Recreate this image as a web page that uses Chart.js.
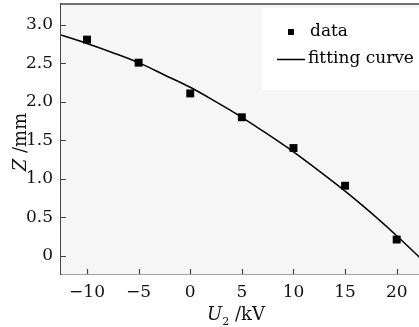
<!DOCTYPE html>
<html>
<head>
<meta charset="utf-8">
<script src="https://cdn.jsdelivr.net/npm/chart.js@4.4.1/dist/chart.umd.min.js"></script>
<style>
  html, body { margin: 0; padding: 0; background: #ffffff; overflow: hidden; }
  #wrap { width: 419px; height: 327px; position: relative; overflow: hidden; }
  canvas { display: block; }
</style>
</head>
<body>
<div id="wrap"><canvas id="c" width="419" height="327"></canvas></div>
<script>
// ---- data ----
const xValues = [-10, -5, 0, 5, 10, 15, 20];
const zValues = [2.81, 2.51, 2.11, 1.80, 1.40, 0.91, 0.21];

const fitX = [-12.5, -10, -7.5, -5, -2.5, 0, 2.5, 5, 7.5, 10, 12.5, 15, 17.5, 20, 22.2];
const fitZ = [2.87, 2.76, 2.64, 2.51, 2.35, 2.19, 2.00, 1.80, 1.58, 1.35, 1.10, 0.84, 0.56, 0.26, -0.02];

const xTicks = [-10, -5, 0, 5, 10, 15, 20];
const xTickLabels = ['\u221210', '\u22125', '0', '5', '10', '15', '20'];
const yTicks = [0, 0.5, 1.0, 1.5, 2.0, 2.5, 3.0];
const yTickLabels = ['0', '0.5', '1.0', '1.5', '2.0', '2.5', '3.0'];

const legendLabels = ['data', 'fitting curve'];
const xTitleMain = 'U', xTitleSub = '2', xTitleUnit = ' /kV';
const yTitleMain = 'Z', yTitleUnit = ' /mm';

const SERIF = '"DejaVu Serif", serif';
const FRAME = { left: 61, top: 4, bottom: 274 };

function zeroPad(s) {
  s.paddingTop = 0; s.paddingBottom = 0; s.paddingLeft = 0; s.paddingRight = 0;
}

const framePlugin = {
  id: 'frame',
  afterLayout(chart) {
    const x = chart.scales.x, y = chart.scales.y;
    const right = chart.width;
    x.left = FRAME.left; x.right = right; x.width = right - FRAME.left;
    x.configure();
    y.top = FRAME.top; y.bottom = FRAME.bottom; y.height = FRAME.bottom - FRAME.top;
    y.configure();
    const a = chart.chartArea;
    a.left = FRAME.left; a.right = right; a.top = FRAME.top; a.bottom = FRAME.bottom;
    a.width = right - FRAME.left; a.height = FRAME.bottom - FRAME.top;
  }
};

const decorPlugin = {
  id: 'decor',
  beforeDatasetsDraw(chart) {
    const { ctx, chartArea: a } = chart;
    ctx.save();
    ctx.fillStyle = '#f6f6f6';
    ctx.fillRect(a.left, a.top, a.right - a.left, a.bottom - a.top);
    // legend box
    ctx.fillStyle = '#ffffff';
    ctx.fillRect(262, 8, a.right - 262, 82);
    ctx.restore();
  },
  afterDraw(chart) {
    const { ctx, chartArea: a, scales } = chart;
    ctx.save();
    ctx.strokeStyle = '#444';
    ctx.lineWidth = 1.5;
    // top frame line
    ctx.beginPath();
    ctx.moveTo(a.left, a.top);
    ctx.lineTo(a.right, a.top);
    ctx.stroke();
    // inward ticks
    ctx.lineWidth = 1.2;
    ctx.beginPath();
    scales.x.ticks.forEach(t => {
      const px = Math.round(scales.x.getPixelForValue(t.value)) + 0.5;
      ctx.moveTo(px, a.bottom);
      ctx.lineTo(px, a.bottom - 5);
    });
    scales.y.ticks.forEach(t => {
      const py = Math.round(scales.y.getPixelForValue(t.value)) + 0.5;
      ctx.moveTo(a.left, py);
      ctx.lineTo(a.left + 5, py);
    });
    ctx.stroke();

    // legend
    ctx.fillStyle = '#000';
    ctx.fillRect(288, 29, 6, 6);
    ctx.strokeStyle = '#000';
    ctx.lineWidth = 1.5;
    ctx.beginPath();
    ctx.moveTo(277, 59.5);
    ctx.lineTo(305, 59.5);
    ctx.stroke();
    ctx.font = '17px ' + SERIF;
    ctx.textBaseline = 'alphabetic';
    ctx.textAlign = 'left';
    ctx.fillText(legendLabels[0], 310, 36);
    ctx.fillText(legendLabels[1], 308, 63);

    // x title
    ctx.fillStyle = '#111';
    const big = '18px ' + SERIF, ital = 'italic 18px ' + SERIF, small = '11px ' + SERIF;
    ctx.font = ital; const w1 = ctx.measureText(xTitleMain).width;
    ctx.font = small; const w2 = ctx.measureText(xTitleSub).width;
    ctx.font = big; const w3 = ctx.measureText(xTitleUnit).width;
    let x0 = (a.left + a.right) / 2 - 4 - (w1 + w2 + w3) / 2;
    const by = 320;
    ctx.font = ital; ctx.fillText(xTitleMain, x0, by);
    ctx.font = small; ctx.fillText(xTitleSub, x0 + w1, by + 5);
    ctx.font = big; ctx.fillText(xTitleUnit, x0 + w1 + w2, by);

    // y title (rotated)
    ctx.save();
    ctx.translate(26, (a.top + a.bottom) / 2 + 3);
    ctx.rotate(-Math.PI / 2);
    ctx.font = ital; const v1 = ctx.measureText(yTitleMain).width;
    ctx.font = big; const v2 = ctx.measureText(yTitleUnit).width;
    const s = -(v1 + v2) / 2;
    ctx.font = ital; ctx.fillText(yTitleMain, s, 0);
    ctx.font = big; ctx.fillText(yTitleUnit, s + v1, 0);
    ctx.restore();

    ctx.restore();
  }
};

new Chart(document.getElementById('c'), {
  type: 'scatter',
  data: {
    datasets: [
      {
        label: legendLabels[0],
        data: xValues.map((x, i) => ({ x: x, y: zValues[i] })),
        pointStyle: 'rect',
        pointRadius: 5.6,
        backgroundColor: '#000',
        borderColor: '#000',
        borderWidth: 0,
        showLine: false,
        order: 0
      },
      {
        label: legendLabels[1],
        data: fitX.map((x, i) => ({ x: x, y: fitZ[i] })),
        showLine: true,
        pointRadius: 0,
        borderColor: '#000',
        borderWidth: 1.5,
        tension: 0.4,
        cubicInterpolationMode: 'monotone',
        fill: false,
        order: 1
      }
    ]
  },
  options: {
    responsive: false,
    animation: false,
    devicePixelRatio: 1,
    layout: { padding: { top: 4, right: 0, left: 0, bottom: 0 } },
    plugins: { legend: { display: false }, tooltip: { enabled: false } },
    scales: {
      x: {
        type: 'linear',
        min: -12.52,
        max: 22.16,
        afterBuildTicks: s => { s.ticks = xTicks.map(v => ({ value: v })); },
        afterFit: s => { s.height = 53; zeroPad(s); },
        grid: { display: false, drawTicks: false },
        border: { display: true, color: '#444', width: 1.5 },
        ticks: {
          padding: 8,
          color: '#111',
          font: { family: SERIF, size: 17 },
          maxRotation: 0,
          autoSkip: false,
          callback: (v) => { const i = xTicks.indexOf(v); return i >= 0 ? xTickLabels[i] : ''; }
        }
      },
      y: {
        type: 'linear',
        min: -0.238,
        max: 3.273,
        afterBuildTicks: s => { s.ticks = yTicks.map(v => ({ value: v })); },
        afterFit: s => { s.width = 61; zeroPad(s); },
        grid: { display: false, drawTicks: false },
        border: { display: true, color: '#444', width: 1.5 },
        ticks: {
          padding: 8,
          color: '#111',
          font: { family: SERIF, size: 17 },
          autoSkip: false,
          callback: (v) => { const i = yTicks.indexOf(v); return i >= 0 ? yTickLabels[i] : ''; }
        }
      }
    }
  },
  plugins: [framePlugin, decorPlugin]
});
</script>
</body>
</html>
